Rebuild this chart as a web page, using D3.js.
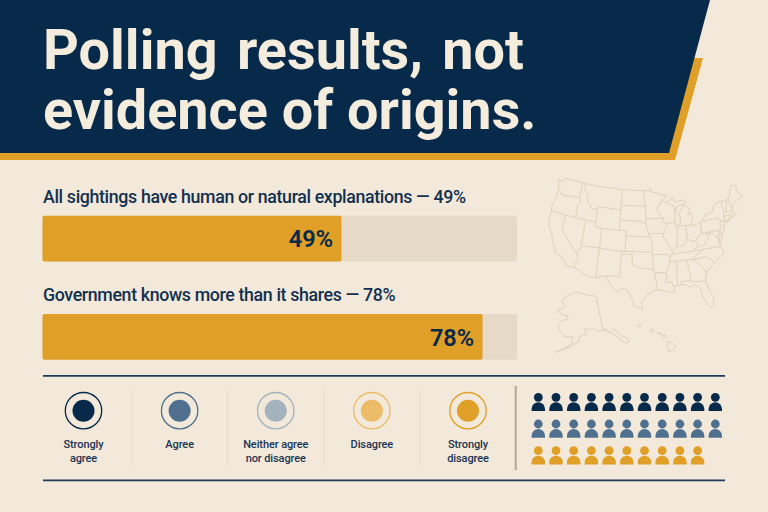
<!DOCTYPE html>
<html>
<head>
<meta charset="utf-8">
<script src="https://cdn.jsdelivr.net/npm/d3@7"></script>
<style>
  html, body { margin: 0; padding: 0; background: #f2e9da; }
  svg { display: block; }
  text { font-family: Roboto, sans-serif; }
</style>
</head>
<body>
<div id="chart"></div>
<script>
// data
const titleLines = ["Polling results, not", "evidence of origins."];
const questions = ["All sightings have human or natural explanations \u2014 49%", "Government knows more than it shares \u2014 78%"];
const shares = [49, 78];
const shareLabels = ["49%", "78%"];
const scaleCategories = ["Strongly agree", "Agree", "Neither agree nor disagree", "Disagree", "Strongly disagree"];
const scaleLabelLines = [["Strongly", "agree"], ["Agree"], ["Neither agree", "nor disagree"], ["Disagree"], ["Strongly", "disagree"]];
const iconRows = ["top", "middle", "bottom"];
const iconCounts = [11, 11, 10];

// colours
const navy = "#07294a";
const gold = "#e09f26";
const paper = "#f2e9da";
const track = "#e6d9c6";
const scaleColors = ["#07294a", "#50708f", "#a3b3bd", "#edbc69", "#e09f26"];
const iconColors = ["#07294a", "#50708f", "#e09f26"];

// map outlines, lon/lat
const usOutline = [[-124.7,48.4],[-123,48.2],[-122.8,49],[-116,49],[-110,49],[-104,49],[-98,49],[-95.15,49],[-95.15,49.38],[-94.8,49.3],[-94.6,48.7],[-93,48.6],[-91.5,48.1],[-89.6,48],[-92,46.7],[-90.8,46.9],[-90.4,46.55],[-89,46.9],[-88.4,47.4],[-87.8,47.45],[-87.5,46.5],[-85,46.75],[-84.4,46.5],[-84,46],[-84.8,45.9],[-86.5,45.8],[-87.6,45.1],[-88,44.55],[-87.3,45.2],[-87.5,44.3],[-87.9,43],[-87.8,42.3],[-87.5,41.7],[-86.8,41.75],[-86.3,42.4],[-86.2,43.5],[-86.5,44],[-85.6,45],[-85,45.7],[-84.5,45.75],[-83.4,45.1],[-83.3,44.3],[-83.9,43.7],[-82.9,44.05],[-82.45,43],[-83.1,42.1],[-83.4,41.7],[-82.5,41.4],[-81.2,41.8],[-79,42.7],[-78.9,43],[-79.05,43.27],[-76.8,43.3],[-76.2,43.6],[-76.3,44.2],[-75,45],[-71.5,45],[-71,45.3],[-70.3,45.9],[-70,46.7],[-69.2,47.45],[-68.3,47.35],[-67.8,47.05],[-67.8,45.7],[-67,44.85],[-68.5,44.3],[-70,43.8],[-70.7,43.05],[-70.8,42.6],[-71,42.3],[-70.6,41.95],[-70,42.05],[-70,41.65],[-71.2,41.5],[-72.9,41.25],[-73.7,40.95],[-72,41.05],[-73.9,40.55],[-74,40.4],[-74.1,39.7],[-74.9,38.95],[-75.6,39.5],[-75.05,38.45],[-75.95,37.15],[-76.3,38.9],[-76.3,37],[-75.9,36.6],[-75.5,35.25],[-76.5,34.65],[-77.9,33.9],[-79,33.4],[-80.8,32.1],[-81.4,30.7],[-81,29.2],[-80.05,26.8],[-80.3,25.4],[-81.1,25.15],[-81.8,26.1],[-82.7,27.8],[-82.8,28.9],[-83.7,29.9],[-84.2,30.05],[-85.3,29.7],[-86.5,30.4],[-88,30.25],[-89.4,30.3],[-89.2,29.1],[-90.2,29.1],[-91.8,29.5],[-93.8,29.7],[-94.8,29.3],[-96.4,28.4],[-97.4,27.3],[-97.15,25.95],[-99.1,26.4],[-99.5,27.5],[-100.6,29.1],[-101.4,29.77],[-102.7,29.7],[-103.2,29],[-104.5,29.65],[-106.5,31.75],[-108.2,31.78],[-108.2,31.33],[-111.07,31.33],[-114.8,32.5],[-117.12,32.53],[-117.3,33],[-118.4,33.75],[-118.5,34.03],[-120.5,34.45],[-120.65,35.15],[-121.9,36.6],[-122.5,37.75],[-123.75,39],[-124.35,40.4],[-124.2,42],[-124.55,42.85],[-124.05,44.7],[-123.95,46.2],[-124.1,46.9],[-124.7,48.4]];
const stateBorders = [
  [[-124,46.25],[-123.2,46.15],[-122.8,45.65],[-121.2,45.65],[-119.3,45.93],[-116.92,46]],
  [[-117.03,49],[-117.04,46.4],[-116.92,46],[-116.5,45.5],[-117.2,44.4],[-117.03,43.8],[-117.03,42]],
  [[-124.2,42],[-118,42],[-111.05,42]],
  [[-120,42],[-120,39],[-114.63,35],[-114.15,34.3],[-114.7,33.4],[-114.8,32.5]],
  [[-114.04,42],[-114.04,36.2],[-114.75,36.1],[-114.63,35]],
  [[-116.05,49],[-116.05,48],[-114.5,46.6],[-114.4,45.55],[-113.5,45.1],[-113,44.45],[-111.05,44.5]],
  [[-111.05,45],[-111.05,41],[-109.05,41]],
  [[-111.05,45],[-104.05,45]],
  [[-104.05,49],[-104.05,41]],
  [[-109.05,41],[-104.05,41],[-102.05,41],[-102.05,37]],
  [[-104.05,45.94],[-96.55,45.94]],
  [[-104.05,43],[-98.5,43],[-96.45,42.5]],
  [[-102.05,40],[-95.3,40]],
  [[-109.05,41],[-109.05,31.33]],
  [[-114.04,37],[-104,37],[-94.62,37]],
  [[-103,37],[-103.05,32],[-106.6,32],[-106.5,31.75]],
  [[-103,36.5],[-100,36.5],[-100,34.56],[-99,34.2],[-97.5,33.9],[-96,33.8],[-94.48,33.64]],
  [[-94.62,36.5],[-94.43,35.4],[-94.48,33.64],[-94.04,33.55],[-94.04,32],[-93.55,31.2],[-93.8,29.7]],
  [[-95.3,40],[-94.62,39.1],[-94.62,36.5],[-90.15,36.5],[-90.37,36],[-89.7,36]],
  [[-94.04,33],[-91.15,33]],
  [[-89.7,36],[-90.1,35],[-91.15,33],[-91,32],[-91.6,31],[-89.75,31],[-89.55,30.2]],
  [[-97.2,49],[-96.55,45.94],[-96.45,43.5],[-96.45,42.5],[-95.9,41.3],[-95.3,40]],
  [[-96.45,43.5],[-91.2,43.5]],
  [[-95.75,40.58],[-91.7,40.6],[-91.4,40.4]],
  [[-92,46.7],[-92.3,46.1],[-92.9,45.6],[-92.75,44.75],[-91.2,43.5],[-91.1,42.7],[-90.2,41.8],[-91.1,41.2],[-91.4,40.4],[-91.5,40],[-90.7,39],[-90.2,38.7],[-89.5,37.3],[-89.15,37],[-89.4,36.5],[-89.7,36]],
  [[-90.65,42.5],[-87.8,42.5]],
  [[-90.4,46.55],[-88.1,45.9],[-87.6,45.1]],
  [[-87.52,41.7],[-87.53,39.3],[-88.05,37.8]],
  [[-84.8,41.7],[-84.82,39.1]],
  [[-86.8,41.76],[-83.4,41.72]],
  [[-89.15,37],[-88.05,37.8],[-87,37.9],[-86,38],[-85.4,38.7],[-84.82,39.1],[-84.2,38.8],[-82.6,38.4],[-81.7,39.2],[-80.85,39.7],[-80.52,40.64]],
  [[-80.52,42],[-80.52,39.72],[-75.79,39.72]],
  [[-79.76,42.25],[-79.76,42],[-75.35,42],[-74.7,41.36],[-75.1,40.95],[-74.75,40.2],[-75.5,39.7]],
  [[-74.7,41.36],[-73.9,41]],
  [[-73.65,41],[-73.5,42.05],[-73.27,42.75],[-73.35,45]],
  [[-73.5,42.05],[-71.38,42.02],[-71.15,41.5]],
  [[-71.8,42.02],[-71.85,41.32]],
  [[-73.27,42.75],[-71.3,42.7],[-70.8,42.87]],
  [[-72.45,42.73],[-72.1,44],[-71.5,45]],
  [[-70.7,43.07],[-71.05,45.3]],
  [[-89.4,36.5],[-88,36.5],[-83.68,36.6],[-75.9,36.55]],
  [[-81.68,36.59],[-82,36.1],[-84.32,35]],
  [[-90.1,35],[-83.1,35]],
  [[-88.2,35],[-88.45,31.9],[-88.4,30.25]],
  [[-85.6,35],[-85.15,32.8],[-85,31],[-84.85,30.7],[-82.2,30.57],[-81.45,30.7]],
  [[-87.6,31],[-85,31]],
  [[-87.6,31],[-87.5,30.3]],
  [[-83.1,35],[-83.35,34.7],[-81.5,33],[-80.85,32.05]],
  [[-83.1,35],[-81,35.15],[-79.7,34.8],[-78.55,33.85]],
  [[-83.68,36.6],[-82,37.5],[-82.6,38.4]],
  [[-82,37.5],[-81.2,37.3],[-80.3,37.55],[-79.3,38.4],[-78.35,39.4],[-77.75,39.3]],
  [[-79.48,39.72],[-79.48,39.2],[-78.4,39.6],[-77.75,39.3],[-77.05,38.7],[-76.3,38]],
  [[-75.79,39.72],[-75.7,38.45]]
];
const alaskaOutline = [[-141,69.65],[-148,70.4],[-156.6,71.3],[-162,70.3],[-166.5,68.4],[-163,67],[-165,66.4],[-168,65.6],[-164,64.5],[-161,64.6],[-161,63.5],[-164.5,63],[-166,61.6],[-164,60],[-162,59.3],[-162,58.7],[-158.5,58.8],[-157,58.8],[-157.5,57],[-160,55.9],[-163,54.8],[-165,54.2],[-162,55],[-158,56.2],[-154.5,57.5],[-153.5,59],[-151.8,59.3],[-150,59.5],[-151,61],[-148,60.9],[-146,60.8],[-144,60.1],[-141,60],[-139,59.6],[-137,58.7],[-135.5,58],[-133.5,56.3],[-131.5,54.9],[-130.2,55],[-130,56],[-132,57],[-134,58.8],[-135.5,59.8],[-137.5,59],[-139,60.2],[-141,60.3],[-141,69.65]];
const hawaiiIslands = [
  [[-159.75,22.1],[-159.4,22.22],[-159.3,22],[-159.6,21.9],[-159.75,22.1]],
  [[-158.25,21.55],[-157.97,21.7],[-157.65,21.3],[-158.1,21.3],[-158.25,21.55]],
  [[-157.3,21.2],[-156.7,21.17],[-156.9,21.05],[-157.3,21.2]],
  [[-156.7,20.95],[-156.3,20.95],[-156,20.75],[-156.4,20.58],[-156.5,20.8],[-156.7,20.95]],
  [[-155.9,20.25],[-155.2,19.95],[-154.8,19.5],[-155.65,18.93],[-155.95,19.5],[-155.9,20.25]]
];

const width = 768, height = 512;
const svg = d3.select("#chart").append("svg")
    .attr("width", width)
    .attr("height", height);

svg.append("rect").attr("width", width).attr("height", height).attr("fill", paper);

// header
const polyLine = d3.line();
svg.append("path")
    .attr("fill", gold)
    .attr("d", polyLine([[0, 150], [665, 150], [693, 58], [703, 58], [675, 160], [0, 160]]) + "Z");
svg.append("path")
    .attr("fill", navy)
    .attr("d", polyLine([[0, 0], [710, 0], [669, 153], [0, 153]]) + "Z");

svg.selectAll(".title")
    .data(titleLines)
    .enter().append("text")
    .attr("class", "title")
    .attr("x", 43)
    .attr("y", (d, i) => 69 + i * 59.5)
    .attr("fill", "#f4ecdc")
    .attr("font-size", 55.8)
    .attr("font-weight", 700)
    .attr("word-spacing", (d, i) => i === 0 ? 5.5 : 0)
    .text(d => d);

// map: project, then stretch onto the box the shape has in the picture
function drawMap(g, groups, projection, xRange, yRange) {
    const pts = groups.flat().map(d => projection(d));
    const sx = d3.scaleLinear().domain(d3.extent(pts, d => d[0])).range(xRange);
    const sy = d3.scaleLinear().domain(d3.extent(pts, d => d[1])).range(yRange);
    const line = d3.line().x(d => sx(projection(d)[0])).y(d => sy(projection(d)[1]));
    g.selectAll(null)
        .data(groups)
        .enter().append("path")
        .attr("fill", "none")
        .attr("stroke", "#e2d2b9")
        .attr("stroke-width", 1)
        .attr("stroke-linejoin", "round")
        .attr("d", line);
}
const mapLayer = svg.append("g");
drawMap(mapLayer, [usOutline].concat(stateBorders),
    d3.geoConicEqualArea().parallels([29.5, 45.5]).rotate([96, 0]).center([0, 37.5]),
    [549, 741.5], [178, 309]);
drawMap(mapLayer, [alaskaOutline],
    d3.geoConicEqualArea().parallels([55, 65]).rotate([154, 0]).center([0, 62]),
    [555, 629], [292, 352]);
drawMap(mapLayer, hawaiiIslands, d3.geoMercator(), [638, 676], [324, 352]);

// bars (the fills in the picture are not proportional to the track, so the scale has knots)
const x = d3.scaleLinear().domain([0, 49, 78, 100]).range([42.5, 341.5, 482.6, 517]);
const y = d3.scalePoint().domain(questions).range([215.7, 314]);
const barHeight = 45.8;

svg.selectAll(".question")
    .data(questions)
    .enter().append("text")
    .attr("class", "question")
    .attr("x", 43)
    .attr("y", d => y(d) - 12.6)
    .attr("fill", "#14304f")
    .attr("font-size", 17.8)
    .attr("letter-spacing", -0.36)
    .attr("font-weight", 500)
    .text(d => d);

svg.selectAll(".track")
    .data(questions)
    .enter().append("rect")
    .attr("class", "track")
    .attr("x", x(0))
    .attr("y", d => y(d))
    .attr("width", x(100) - x(0))
    .attr("height", barHeight)
    .attr("rx", 2)
    .attr("fill", track);

svg.selectAll(".bar")
    .data(shares)
    .enter().append("rect")
    .attr("class", "bar")
    .attr("x", x(0))
    .attr("y", (d, i) => y(questions[i]))
    .attr("width", d => x(d) - x(0))
    .attr("height", barHeight)
    .attr("rx", 2)
    .attr("fill", gold);

svg.selectAll(".share")
    .data(shares)
    .enter().append("text")
    .attr("class", "share")
    .attr("x", d => x(d) - 8.5)
    .attr("y", (d, i) => y(questions[i]) + 31.7)
    .attr("text-anchor", "end")
    .attr("fill", navy)
    .attr("font-size", 23.5)
    .attr("font-weight", 600)
    .text((d, i) => shareLabels[i]);

// rules
svg.selectAll(".rule")
    .data([375.8, 480.3])
    .enter().append("line")
    .attr("class", "rule")
    .attr("x1", 43).attr("x2", 725)
    .attr("y1", d => d).attr("y2", d => d)
    .attr("stroke", "#1e3a5a")
    .attr("stroke-width", 1.8);

// agreement scale
const legendX = d3.scalePoint().domain(scaleCategories).range([83.5, 468]);
const legendY = 410.7;

const legend = svg.selectAll(".legend")
    .data(scaleCategories)
    .enter().append("g")
    .attr("class", "legend")
    .attr("transform", d => "translate(" + legendX(d) + "," + legendY + ")");

legend.append("circle")
    .attr("r", 18.2)
    .attr("fill", "none")
    .attr("stroke", (d, i) => scaleColors[i])
    .attr("stroke-width", 1.3);

legend.append("circle")
    .attr("r", 11)
    .attr("fill", (d, i) => scaleColors[i]);

legend.each(function (d, i) {
    d3.select(this).selectAll("text")
        .data(scaleLabelLines[i])
        .enter().append("text")
        .attr("y", (t, j) => 37.5 + j * 14)
        .attr("text-anchor", "middle")
        .attr("fill", "#1b3553")
        .attr("font-size", 11)
        .attr("letter-spacing", -0.1)
        .attr("font-weight", 500)
        .text(t => t);
});

svg.selectAll(".separator")
    .data(scaleCategories.slice(1))
    .enter().append("line")
    .attr("class", "separator")
    .attr("x1", d => legendX(d) - 48).attr("x2", d => legendX(d) - 48)
    .attr("y1", 391).attr("y2", 466)
    .attr("stroke", "#eadbc4")
    .attr("stroke-width", 1);

svg.append("line")
    .attr("x1", 515.7).attr("x2", 515.7)
    .attr("y1", 386).attr("y2", 470)
    .attr("stroke", "#b1a896")
    .attr("stroke-width", 2);

// people icons
const columnX = d3.scalePoint().domain(d3.range(d3.max(iconCounts))).range([538.3, 715.3]);
const rowY = d3.scalePoint().domain(iconRows).range([397.3, 450.7]);
const bodyPath = "M-6.7,13.7 V11.5 A6.7,6.5 0 0 1 6.7,11.5 V13.7 Z";

const rows = svg.selectAll(".row")
    .data(iconRows)
    .enter().append("g")
    .attr("class", "row")
    .attr("fill", (d, i) => iconColors[i])
    .attr("transform", d => "translate(0," + rowY(d) + ")");

const people = rows.selectAll(".person")
    .data((d, i) => d3.range(iconCounts[i]))
    .enter().append("g")
    .attr("class", "person")
    .attr("transform", d => "translate(" + columnX(d) + ",0)");

people.append("circle").attr("r", 4.4);
people.append("path").attr("d", bodyPath);
</script>
</body>
</html>
